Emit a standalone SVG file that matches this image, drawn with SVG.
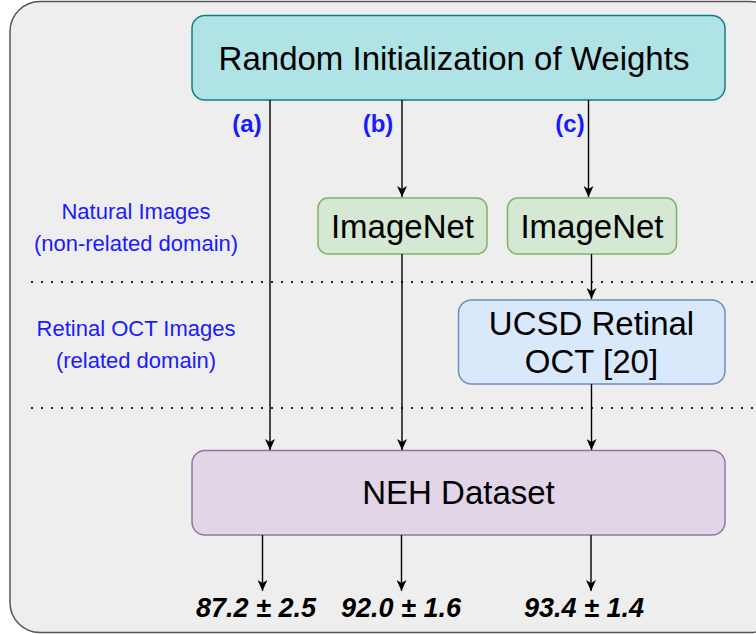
<svg xmlns="http://www.w3.org/2000/svg" width="756" height="634" viewBox="0 0 756 634">
<defs>
<marker id="arr" markerUnits="userSpaceOnUse" markerWidth="12" markerHeight="10" refX="11" refY="5" orient="auto">
<path d="M0,0 L11,5 L0,10 L3,5 z" fill="#000"/>
</marker>
<style>
.node text{font-family:"Liberation Sans",Arial,Helvetica,sans-serif;font-size:33px;fill:#000;text-anchor:middle}
.lbl{font-family:"Liberation Sans",Arial,Helvetica,sans-serif;font-size:22px;fill:#1a1aff;text-anchor:middle}
.tag{font-family:"Liberation Sans",Arial,Helvetica,sans-serif;font-size:24px;font-weight:bold;fill:#1a1aff;text-anchor:middle}
.res{font-family:"Liberation Sans",Arial,Helvetica,sans-serif;font-size:27px;font-weight:bold;font-style:italic;fill:#000;text-anchor:middle}
.conn line{stroke:#000;stroke-width:1.4;marker-end:url(#arr)}
.dot{stroke:#222;stroke-width:2.2;stroke-dasharray:2 8}
</style>
</defs>
<rect x="10" y="1.5" width="770" height="631" rx="30" fill="#eeeeee" stroke="#555" stroke-width="1.5"/>
<line class="dot" x1="31" y1="282" x2="756" y2="282"/>
<line class="dot" x1="31" y1="408" x2="756" y2="408"/>
<g id="labels">
<text class="lbl" x="136" y="219">Natural Images</text>
<text class="lbl" x="136" y="251">(non-related domain)</text>
<text class="lbl" x="136" y="336">Retinal OCT Images</text>
<text class="lbl" x="136" y="368">(related domain)</text>
<text class="tag" x="247" y="132">(a)</text>
<text class="tag" x="378" y="132">(b)</text>
<text class="tag" x="570" y="132">(c)</text>
</g>
<g id="random-init" class="node">
<rect x="192" y="15.5" width="533" height="84.5" rx="13" fill="#b0e3e6" stroke="#0e8088" stroke-width="1.5"/>
<text x="454" y="70">Random Initialization of Weights</text>
</g>
<g id="imagenet-b" class="node">
<rect x="318" y="198" width="169" height="56" rx="10" fill="#d5e8d4" stroke="#82b366" stroke-width="1.5"/>
<text x="402.5" y="238">ImageNet</text>
</g>
<g id="imagenet-c" class="node">
<rect x="507.5" y="198" width="169" height="56" rx="10" fill="#d5e8d4" stroke="#82b366" stroke-width="1.5"/>
<text x="592" y="238">ImageNet</text>
</g>
<g id="ucsd" class="node">
<rect x="458.5" y="300" width="266.5" height="84" rx="13" fill="#dae8fc" stroke="#6c8ebf" stroke-width="1.5"/>
<text x="591.5" y="335">UCSD Retinal</text>
<text x="591.5" y="373">OCT [20]</text>
</g>
<g id="neh" class="node">
<rect x="192" y="450.5" width="533" height="84.5" rx="13" fill="#e1d5e7" stroke="#9673a6" stroke-width="1.5"/>
<text x="458.5" y="504">NEH Dataset</text>
</g>
<g id="connectors" class="conn">
<line x1="270" y1="100" x2="270" y2="450"/>
<line x1="402" y1="100" x2="402" y2="197"/>
<line x1="588.5" y1="100" x2="588.5" y2="197"/>
<line x1="591.5" y1="254" x2="591.5" y2="299"/>
<line x1="402" y1="254" x2="402" y2="450"/>
<line x1="591.5" y1="384" x2="591.5" y2="450"/>
<line x1="262.5" y1="535" x2="262.5" y2="591"/>
<line x1="401.5" y1="535" x2="401.5" y2="591"/>
<line x1="591" y1="535" x2="591" y2="591"/>
</g>
<g id="results">
<text class="res" x="256" y="617">87.2 ± 2.5</text>
<text class="res" x="401" y="617">92.0 ± 1.6</text>
<text class="res" x="584" y="617">93.4 ± 1.4</text>
</g>
</svg>
